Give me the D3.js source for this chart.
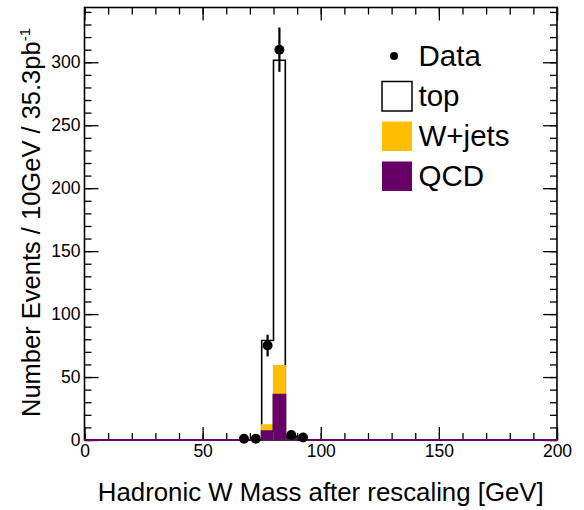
<!DOCTYPE html>
<html><head><meta charset="utf-8">
<script src="https://cdn.jsdelivr.net/npm/d3@7"></script>
<style>
html,body{margin:0;padding:0;background:#fff;}
text{font-family:"Liberation Sans",Arial,Helvetica,sans-serif;}
</style></head>
<body><svg id="c" width="584" height="510"></svg>
<script>
// ---- data ----
const binWidth = 5;
const xMin = 0, xMax = 200;
const binStarts = [65, 70, 75, 80, 85, 90];          // bins with content
const qcdValues  = [0, 0, 7, 36, 1.5, 0];
const wjetsValues = [0, 0, 5, 23, 0.5, 0];
const topValues  = [0, 0, 67, 242.6, 1, 0];
const dataValues = [1, 1, 75, 310, 4, 2];
const xTickMajor = [0, 50, 100, 150, 200];
const yTickMajor = [0, 50, 100, 150, 200, 250, 300];
const legendLabels = ["Data", "top", "W+jets", "QCD"];
const colors = {qcd: "#660066", wjets: "#FFBF00", top: "#ffffff"};

// ---- layout ----
const svg = d3.select("#c");
const L = 84.5, R = 557, T = 7.5, B = 440;
const yMax = 343.5;
const x = d3.scaleLinear().domain([xMin, xMax]).range([L, R]);
const y = d3.scaleLinear().domain([0, yMax]).range([B, T]);

// full binning built from arrays
const nBins = (xMax - xMin) / binWidth;
const bins = d3.range(nBins).map(i => {
  const lo = xMin + i * binWidth;
  const k = binStarts.indexOf(lo);
  const q = k >= 0 ? qcdValues[k] : 0;
  const w = k >= 0 ? wjetsValues[k] : 0;
  const t = k >= 0 ? topValues[k] : 0;
  return {lo, hi: lo + binWidth, qcd: q, wj: q + w, tot: q + w + t};
});

function stepPath(key) {
  let p = `M${x(xMin)},${y(0)}`;
  bins.forEach(b => { p += `L${x(b.lo)},${y(b[key])}L${x(b.hi)},${y(b[key])}`; });
  p += `L${x(xMax)},${y(0)}`;
  return p;
}

// axes ticks (inward) -----------------------------------------------
const xMinor = d3.range(xMin, xMax + 1, 10);
const yMinor = d3.range(0, yMax, 10);
const gAx = svg.append("g");
gAx.append("g").attr("transform", `translate(0,${B})`)
  .call(d3.axisBottom(x).tickValues(xMinor).tickSize(-7).tickFormat(""))
  .call(g => g.select(".domain").remove());
gAx.append("g").attr("transform", `translate(0,${B})`)
  .call(d3.axisBottom(x).tickValues(xTickMajor).tickSize(-13).tickPadding(5).tickFormat(d3.format("d")))
  .call(g => g.select(".domain").remove())
  .call(g => g.selectAll("text").attr("font-size", 17.5).attr("fill", "#000"));
gAx.append("g").attr("transform", `translate(0,${T})`)
  .call(d3.axisTop(x).tickValues(xMinor).tickSize(-7).tickFormat(""))
  .call(g => g.select(".domain").remove());
gAx.append("g").attr("transform", `translate(0,${T})`)
  .call(d3.axisTop(x).tickValues(xTickMajor).tickSize(-13).tickFormat(""))
  .call(g => g.select(".domain").remove());
gAx.append("g").attr("transform", `translate(${L},0)`)
  .call(d3.axisLeft(y).tickValues(yMinor).tickSize(-7).tickFormat(""))
  .call(g => g.select(".domain").remove());
gAx.append("g").attr("transform", `translate(${L},0)`)
  .call(d3.axisLeft(y).tickValues(yTickMajor).tickSize(-14).tickPadding(4).tickFormat(d3.format("d")))
  .call(g => g.select(".domain").remove())
  .call(g => g.selectAll("text").attr("font-size", 17.5).attr("fill", "#000"));
gAx.append("g").attr("transform", `translate(${R},0)`)
  .call(d3.axisRight(y).tickValues(yMinor).tickSize(-7).tickFormat(""))
  .call(g => g.select(".domain").remove());
gAx.append("g").attr("transform", `translate(${R},0)`)
  .call(d3.axisRight(y).tickValues(yTickMajor).tickSize(-14).tickFormat(""))
  .call(g => g.select(".domain").remove());
gAx.selectAll(".tick line").attr("stroke", "#000").attr("stroke-width", 1.3);

svg.append("rect").attr("x", L).attr("y", T).attr("width", R - L).attr("height", B - T)
  .attr("fill", "none").attr("stroke", "#000").attr("stroke-width", 1.6);

// histograms -------------------------------------------------------
const gh = svg.append("g");
function fillBars(key, color) {
  gh.append("g").selectAll("rect").data(bins.filter(b => b[key] > 0)).join("rect")
    .attr("x", b => x(b.lo)).attr("width", b => x(b.hi) - x(b.lo))
    .attr("y", b => y(b[key])).attr("height", b => y(0) - y(b[key]))
    .attr("fill", color);
}
fillBars("tot", colors.top);
gh.append("path").attr("d", stepPath("tot")).attr("fill", "none").attr("stroke", "#000").attr("stroke-width", 1.6);
fillBars("wj", colors.wjets);
gh.append("path").attr("d", stepPath("wj")).attr("fill", "none").attr("stroke", colors.wjets).attr("stroke-width", 1.2);
fillBars("qcd", colors.qcd);
gh.append("path").attr("d", stepPath("qcd")).attr("fill", "none").attr("stroke", colors.qcd).attr("stroke-width", 2);

// data points ------------------------------------------------------
const pts = binStarts.map((s, i) => ({xc: s + binWidth / 2, v: dataValues[i]})).filter(d => d.v > 0);
const gd = svg.append("g");
gd.selectAll("line").data(pts).join("line")
  .attr("x1", d => x(d.xc)).attr("x2", d => x(d.xc))
  .attr("y1", d => y(d.v + Math.sqrt(d.v))).attr("y2", d => y(Math.max(0, d.v - Math.sqrt(d.v))))
  .attr("stroke", "#000").attr("stroke-width", 2.2);
gd.selectAll("circle").data(pts).join("circle")
  .attr("cx", d => x(d.xc)).attr("cy", d => y(d.v)).attr("r", 5).attr("fill", "#000");

// legend -----------------------------------------------------------
const lg = svg.append("g");
const lx = 382, ly0 = 56, lstep = 40;
lg.append("circle").attr("cx", 394).attr("cy", ly0).attr("r", 4).attr("fill", "#000");
const boxFill = [null, colors.top, colors.wjets, colors.qcd];
[1, 2, 3].forEach(i => {
  const cy = ly0 + i * lstep;
  lg.append("rect").attr("x", lx).attr("y", cy - 14.5).attr("width", 30).attr("height", 29.5)
    .attr("fill", boxFill[i])
    .attr("stroke", i === 1 ? "#000" : boxFill[i]).attr("stroke-width", i === 1 ? 1.5 : 0);
});
legendLabels.forEach((t, i) => {
  lg.append("text").attr("x", 418.5).attr("y", ly0 + i * lstep + 10)
    .attr("font-size", 29.5).attr("fill", "#000").text(t);
});

// axis titles ------------------------------------------------------
svg.append("text").attr("x", (L + R) / 2).attr("y", 501).attr("text-anchor", "middle")
  .attr("font-size", 25.8).attr("fill", "#000").text("Hadronic W Mass after rescaling [GeV]");
const yt = svg.append("text").attr("transform", "translate(40,28) rotate(-90)")
  .attr("text-anchor", "end").attr("font-size", 25.5).attr("fill", "#000");
yt.append("tspan").text("Number Events / 10GeV / 35.3pb");
yt.append("tspan").attr("dy", -10).attr("font-size", 15).text("-1");
</script></body></html>
